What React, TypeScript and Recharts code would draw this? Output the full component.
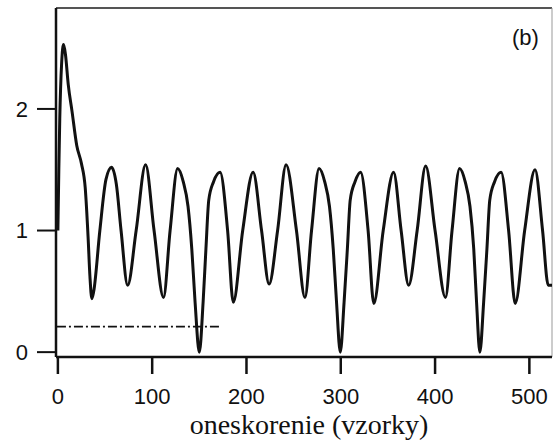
import { LineChart, Line, XAxis, YAxis, ReferenceLine } from 'recharts'

// lag (samples) and autocorrelation
const lags = [
    0, 1, 2, 4, 6, 8, 11, 15, 20, 25, 29, 32, 34, 36, 38, 44.5, 51, 57, 62, 67, 74, 83, 93, 102, 112, 119, 127,
    133, 138, 142, 145.5, 150, 154, 157, 160, 165, 172, 180, 186, 196, 207, 216, 224, 233, 242, 253, 262, 269, 277,
    283, 288, 292, 295.5, 299.5, 303.5, 307, 310, 315, 321, 329, 335, 345, 356, 364, 372, 381, 390, 400, 411, 418, 426,
    432, 437, 441, 444, 447.5, 451.5, 455, 458, 463, 470, 478, 485, 495, 506, 514, 520, 524
]
const acf = [
    1.0, 1.5, 1.92, 2.38, 2.53, 2.45, 2.2, 1.98, 1.7, 1.55, 1.35, 0.95, 0.62, 0.44, 0.5, 1.0, 1.42, 1.52, 1.38, 1.0, 0.55, 1.0, 1.54, 1.0, 0.45, 1.0, 1.51,
    1.4, 1.2, 0.85, 0.41, 0.0, 0.41, 0.85, 1.25, 1.4, 1.48, 1.0, 0.41, 1.0, 1.48, 1.0, 0.56, 1.0, 1.54, 1.0, 0.45, 1.0, 1.51,
    1.4, 1.2, 0.85, 0.41, 0.0, 0.41, 0.85, 1.25, 1.4, 1.48, 1.0, 0.4, 1.0, 1.48, 1.0, 0.55, 1.0, 1.53, 1.0, 0.45, 1.0, 1.51,
    1.4, 1.2, 0.85, 0.41, 0.0, 0.41, 0.85, 1.25, 1.4, 1.48, 1.0, 0.4, 1.0, 1.5, 1.0, 0.55, 0.55
]

const xTicks = [0, 100, 200, 300, 400, 500]
const yTicks = [0, 1, 2]
const threshold = 0.21
const thresholdEnd = 172

const xDomain = [-2, 524]
const yDomain = [-0.04, 2.83]

const data = lags.map((lag, i) => ({ lag, acf: acf[i] }))

const tickStyle = { fill: '#111', fontSize: 22, fontFamily: '"Liberation Sans", Arial, sans-serif' }

const AxisTitle = ({ viewBox }: any) => (
    <text
        x={viewBox.x + viewBox.width / 2 + 5}
        y={viewBox.y + 77}
        textAnchor="middle"
        fill="#111"
        fontSize={28}
        fontFamily='"Liberation Serif", "Times New Roman", serif'
    >
        oneskorenie (vzorky)
    </text>
)

export default function App() {
    return (
        <div style={{ position: 'absolute', left: 0, top: 0, width: 553, height: 441, background: '#fff' }}>
            <LineChart width={553} height={441} data={data} margin={{ top: 8, right: 1, bottom: 4, left: 0 }}>
                <XAxis
                    type="number"
                    dataKey="lag"
                    domain={xDomain}
                    ticks={xTicks}
                    allowDataOverflow
                    height={80}
                    tick={tickStyle}
                    tickSize={17}
                    tickMargin={14}
                    axisLine={{ stroke: '#111', strokeWidth: 2.5 }}
                    tickLine={{ stroke: '#111', strokeWidth: 2.5 }}
                    label={<AxisTitle />}
                />
                <YAxis
                    type="number"
                    domain={yDomain}
                    ticks={yTicks}
                    allowDataOverflow
                    width={56}
                    tick={tickStyle}
                    tickSize={19}
                    tickMargin={9}
                    axisLine={{ stroke: '#111', strokeWidth: 2.5 }}
                    tickLine={{ stroke: '#111', strokeWidth: 2 }}
                />

                {/* frame top / right */}
                <ReferenceLine y={yDomain[1]} stroke="#555" strokeWidth={2} />
                <ReferenceLine x={xDomain[1]} stroke="#999" strokeWidth={1} />

                {/* dash-dot threshold */}
                <ReferenceLine
                    segment={[{ x: -1, y: threshold }, { x: thresholdEnd, y: threshold }]}
                    stroke="#111"
                    strokeWidth={1.6}
                    strokeDasharray="9 3 2 3"
                />

                <Line
                    type="monotone"
                    dataKey="acf"
                    stroke="#111"
                    strokeWidth={3}
                    dot={false}
                    isAnimationActive={false}
                />
            </LineChart>
            <div
                style={{
                    position: 'absolute',
                    left: 512,
                    top: 24,
                    fontSize: 22,
                    fontFamily: '"Liberation Sans", Arial, sans-serif',
                    color: '#111',
                    lineHeight: '28px'
                }}
            >
                (b)
            </div>
        </div>
    )
}
